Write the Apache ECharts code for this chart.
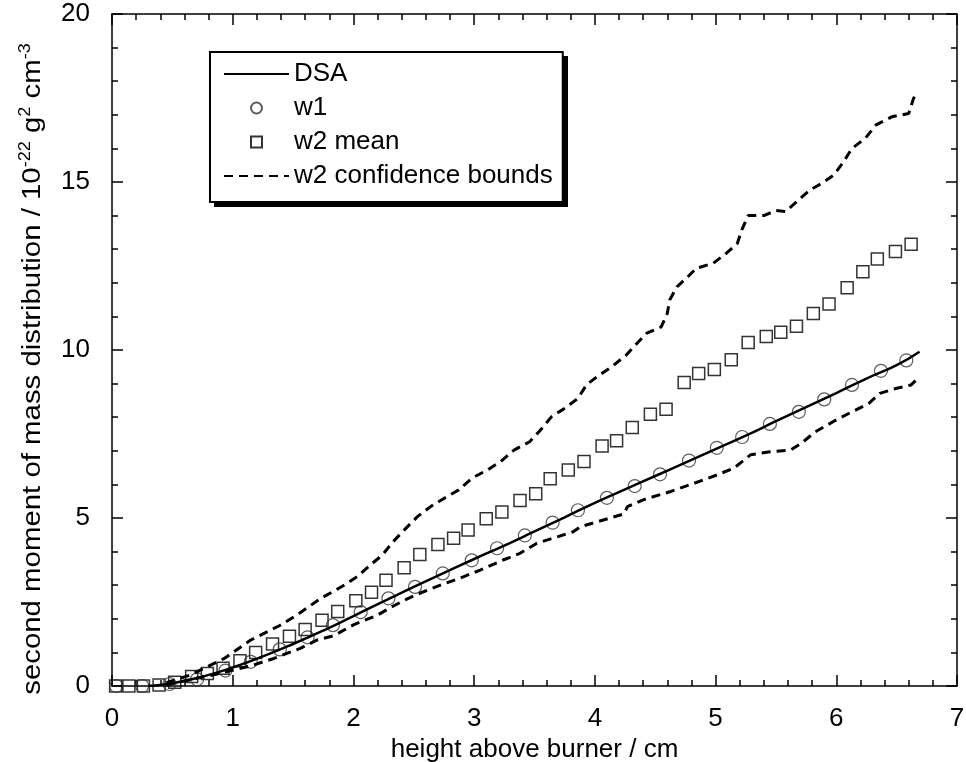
<!DOCTYPE html>
<html>
<head>
<meta charset="utf-8">
<script src="https://cdn.jsdelivr.net/npm/echarts@6/dist/echarts.min.js"></script>
<style>
  html, body { margin: 0; padding: 0; background: #fff; }
  #chart { width: 966px; height: 762px; }
</style>
</head>
<body>
<div id="chart"></div>
<script>
// DSA model curve
const DSA_X = [0.3, 0.5, 0.75, 1.0, 1.25, 1.5, 1.75, 2.0, 2.25, 2.5, 2.75, 3.0, 3.25, 3.5, 3.75, 4.0, 4.25, 4.5, 4.75, 5.0, 5.25, 5.5, 5.75, 6.0, 6.25, 6.5, 6.69];
const DSA_Y = [0.0, 0.08, 0.28, 0.55, 0.88, 1.25, 1.65, 2.08, 2.52, 2.95, 3.37, 3.78, 4.18, 4.6, 5.02, 5.45, 5.85, 6.25, 6.65, 7.05, 7.45, 7.88, 8.3, 8.72, 9.15, 9.55, 9.95];

// w1 (circles)
const W1_X = [0.035, 0.25, 0.476, 0.705, 0.94, 1.15, 1.39, 1.62, 1.83, 2.06, 2.29, 2.51, 2.74, 2.98, 3.19, 3.42, 3.65, 3.86, 4.10, 4.33, 4.54, 4.78, 5.01, 5.22, 5.45, 5.69, 5.90, 6.13, 6.37, 6.58];
const W1_Y = [0, 0, 0.06, 0.2, 0.46, 0.72, 1.09, 1.45, 1.81, 2.2, 2.61, 2.95, 3.35, 3.74, 4.1, 4.48, 4.86, 5.23, 5.6, 5.95, 6.3, 6.71, 7.09, 7.41, 7.8, 8.16, 8.53, 8.96, 9.38, 9.69];

// w2 mean (squares)
const W2_X = [0.03, 0.14, 0.26, 0.39, 0.52, 0.66, 0.79, 0.92, 1.06, 1.19, 1.33, 1.47, 1.60, 1.74, 1.87, 2.02, 2.15, 2.27, 2.42, 2.55, 2.70, 2.83, 2.95, 3.10, 3.23, 3.38, 3.51, 3.63, 3.78, 3.91, 4.06, 4.18, 4.31, 4.46, 4.59, 4.74, 4.86, 4.99, 5.13, 5.27, 5.42, 5.54, 5.67, 5.81, 5.94, 6.09, 6.22, 6.34, 6.49, 6.62];
const W2_Y = [0, 0, 0, 0.03, 0.11, 0.28, 0.37, 0.53, 0.75, 1.0, 1.25, 1.48, 1.68, 1.96, 2.22, 2.54, 2.79, 3.15, 3.52, 3.91, 4.21, 4.40, 4.64, 4.98, 5.18, 5.52, 5.72, 6.17, 6.43, 6.68, 7.14, 7.30, 7.69, 8.09, 8.24, 9.03, 9.30, 9.42, 9.71, 10.22, 10.40, 10.53, 10.71, 11.09, 11.37, 11.85, 12.33, 12.71, 12.93, 13.15];

// w2 confidence bounds
const UP_X = [0.45, 0.65, 0.93, 1.15, 1.39, 1.53, 1.73, 1.89, 2.03, 2.14, 2.24, 2.33, 2.42, 2.53, 2.64, 2.77, 2.87, 2.98, 3.11, 3.22, 3.33, 3.46, 3.55, 3.64, 3.74, 3.86, 3.93, 4.02, 4.14, 4.26, 4.35, 4.43, 4.55, 4.60, 4.62, 4.68, 4.77, 4.84, 4.98, 5.09, 5.18, 5.22, 5.27, 5.40, 5.50, 5.58, 5.67, 5.78, 5.88, 5.98, 6.06, 6.13, 6.24, 6.33, 6.46, 6.60, 6.64, 6.66];
const UP_Y = [0.1, 0.33, 0.82, 1.37, 1.8, 2.11, 2.61, 2.93, 3.25, 3.6, 3.9, 4.3, 4.64, 5.04, 5.34, 5.63, 5.83, 6.18, 6.43, 6.68, 7.02, 7.27, 7.62, 8.01, 8.24, 8.56, 8.96, 9.21, 9.5, 9.85, 10.2, 10.5, 10.69, 11.09, 11.49, 11.88, 12.18, 12.43, 12.58, 12.88, 13.17, 13.6, 14.0, 14.0, 14.15, 14.12, 14.41, 14.76, 14.96, 15.21, 15.6, 16.0, 16.3, 16.7, 16.94, 17.04, 17.49, 17.6];
const LO_X = [0.45, 0.57, 0.8, 1.01, 1.15, 1.34, 1.56, 1.70, 1.84, 2.0, 2.2, 2.32, 2.45, 2.55, 2.72, 2.91, 3.05, 3.24, 3.38, 3.52, 3.69, 3.82, 3.88, 4.07, 4.24, 4.27, 4.40, 4.62, 4.82, 5.01, 5.15, 5.22, 5.29, 5.45, 5.62, 5.71, 5.82, 5.99, 6.13, 6.27, 6.36, 6.50, 6.62, 6.66];
const LO_Y = [0.03, 0.13, 0.3, 0.48, 0.6, 0.82, 1.12, 1.37, 1.5, 1.82, 2.11, 2.36, 2.6, 2.76, 3.0, 3.25, 3.45, 3.75, 3.95, 4.25, 4.44, 4.59, 4.74, 4.94, 5.12, 5.34, 5.54, 5.78, 6.03, 6.28, 6.48, 6.68, 6.88, 6.97, 7.02, 7.22, 7.55, 7.9, 8.16, 8.41, 8.71, 8.86, 8.96, 9.1];

const FONT = '"Liberation Sans", Arial, sans-serif';
const zip = (xs, ys) => xs.map((x, i) => [x, ys[i]]);

const chart = echarts.init(document.getElementById('chart'), null, { renderer: 'canvas' });

// shared axis look: black frame, inside ticks on all four sides
const axisLine = { show: true, onZero: false, lineStyle: { color: '#000', width: 1.5 } };
const axisTick = { show: true, inside: true, length: 11, lineStyle: { color: '#000', width: 1.5 } };
const minorTick = { show: true, splitNumber: 5, length: 6, lineStyle: { color: '#000', width: 1.5 } };

const option = {
  backgroundColor: '#fff',
  animation: false,
  grid: { left: 112, right: 9, top: 14, bottom: 76, outerBoundsMode: 'none', containLabel: false },
  graphic: [
    // hard drop shadow of the legend box
    { type: 'rect', left: 214, top: 56, z: 0, silent: true,
      shape: { width: 354, height: 151 }, style: { fill: '#000' } },
    // y axis title, a little stretched along its length like the original
    { type: 'text', x: 33, y: 369, rotation: Math.PI / 2, scaleX: 1.13, z: 10, silent: true,
      style: {
        text: 'second moment of mass distribution / 10{s|-22} g{s|2} cm{s|-3}',
        fontFamily: FONT, fontSize: 26, fill: '#000', lineHeight: 30,
        align: 'center', verticalAlign: 'middle',
        rich: { s: { fontFamily: FONT, fontSize: 16, fill: '#000', verticalAlign: 'top', lineHeight: 16 } }
      } }
  ],
  legend: {
    orient: 'vertical',
    left: 210,
    top: 52,
    z: 5,
    padding: [9, 10, 13, 13],
    itemWidth: 65,
    itemHeight: 11,
    itemGap: 8,
    backgroundColor: '#fff',
    borderColor: '#000',
    borderWidth: 2,
    borderRadius: 0,
    textStyle: { fontFamily: FONT, fontSize: 26, color: '#000', lineHeight: 26 },
    data: [
      { name: 'DSA', itemStyle: { opacity: 0 } },
      { name: 'w1' },
      { name: 'w2 mean', icon: 'path://M0,0H10V10H0Z' },
      { name: 'w2 confidence bounds', itemStyle: { opacity: 0 } }
    ]
  },
  xAxis: [
    {
      type: 'value', min: 0, max: 7, interval: 1, position: 'bottom',
      name: 'height above burner / cm', nameLocation: 'middle', nameGap: 50,
      nameTextStyle: { fontFamily: FONT, fontSize: 26, color: '#000' },
      axisLine, axisTick, minorTick,
      axisLabel: { fontFamily: FONT, fontSize: 26, color: '#000', margin: 20 },
      splitLine: { show: false }
    },
    {
      type: 'value', min: 0, max: 7, interval: 1, position: 'top',
      axisLine, axisTick, minorTick,
      axisLabel: { show: false }, splitLine: { show: false }
    }
  ],
  yAxis: [
    {
      type: 'value', min: 0, max: 20, interval: 5, position: 'left',
      axisLine, axisTick, minorTick,
      axisLabel: { fontFamily: FONT, fontSize: 26, color: '#000', margin: 22 },
      splitLine: { show: false }
    },
    {
      type: 'value', min: 0, max: 20, interval: 5, position: 'right',
      axisLine, axisTick, minorTick,
      axisLabel: { show: false }, splitLine: { show: false }
    }
  ],
  series: [
    {
      name: 'w2 confidence bounds', type: 'line', data: zip(UP_X, UP_Y),
      showSymbol: false, symbol: 'none', smooth: false,
      lineStyle: { color: '#000', width: 3, type: [9, 6] },
      itemStyle: { color: '#000' }
    },
    {
      name: 'w2 confidence bounds', type: 'line', data: zip(LO_X, LO_Y),
      showSymbol: false, symbol: 'none', smooth: false,
      lineStyle: { color: '#000', width: 3, type: [9, 6] },
      itemStyle: { color: '#000' }
    },
    {
      name: 'w2 mean', type: 'scatter', data: zip(W2_X, W2_Y),
      symbol: 'rect', symbolSize: 12,
      itemStyle: { color: 'rgba(0,0,0,0)', borderColor: '#000', borderWidth: 1.5 }
    },
    {
      name: 'w1', type: 'scatter', data: zip(W1_X, W1_Y),
      symbol: 'circle', symbolSize: 13,
      itemStyle: { color: 'rgba(0,0,0,0)', borderColor: '#333', borderWidth: 1.2 }
    },
    {
      name: 'DSA', type: 'line', data: zip(DSA_X, DSA_Y),
      showSymbol: false, symbol: 'none', smooth: true,
      lineStyle: { color: '#000', width: 2.5 },
      itemStyle: { color: '#000' }
    }
  ]
};

chart.setOption(option);
</script>
</body>
</html>
